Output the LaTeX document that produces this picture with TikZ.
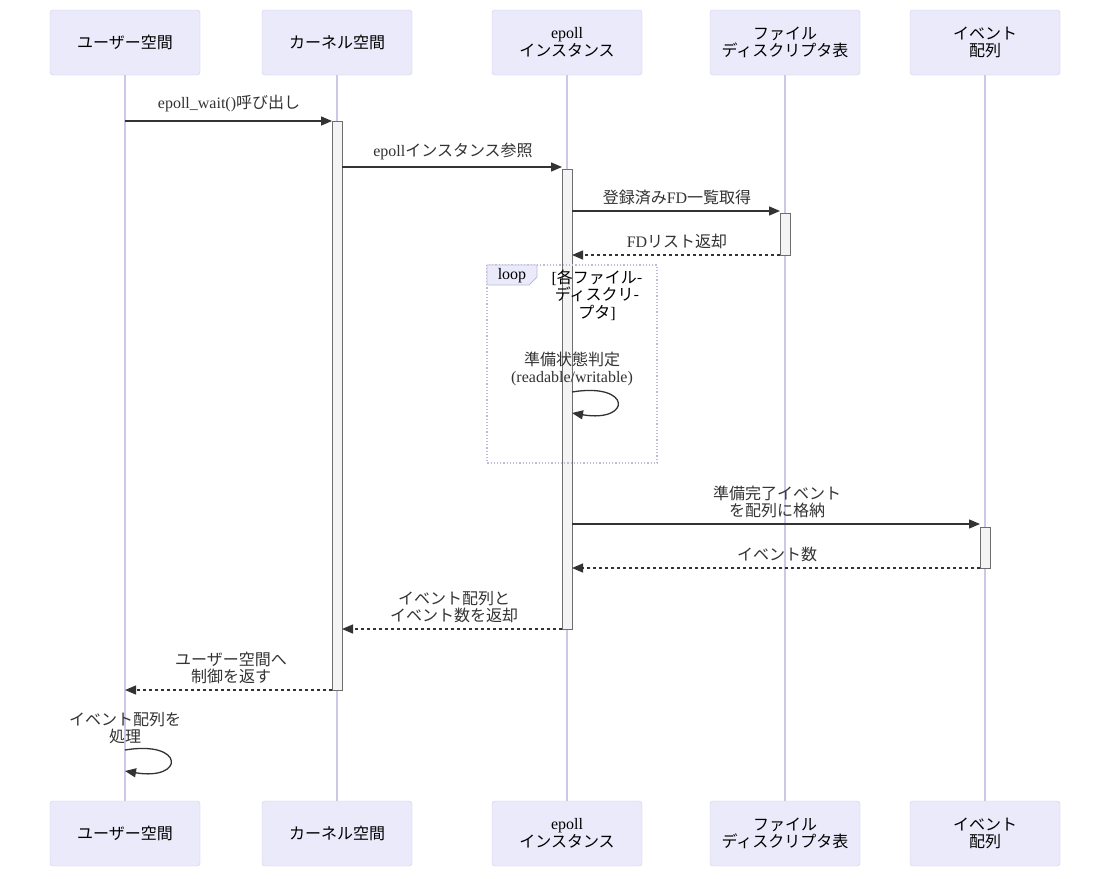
\documentclass[tikz,border=0pt]{standalone}
\usepackage{fontspec}
\setmainfont{Liberation Serif}
\newfontfamily\jpf{Noto Sans CJK JP}
\newcommand\jp[1]{{\jpf #1}}
\usetikzlibrary{arrows.meta}
\definecolor{actfill}{RGB}{234,234,250}
\definecolor{actbd}{RGB}{208,204,238}
\definecolor{lifec}{RGB}{204,200,232}
\definecolor{actvfill}{RGB}{244,244,244}
\definecolor{actvbd}{RGB}{110,110,110}
\definecolor{ink}{RGB}{51,51,51}
\definecolor{loopbd}{RGB}{190,186,220}
\newcommand\fs{\fontsize{16}{17.5}\selectfont}
\tikzset{
  actor/.style={draw=actbd, fill=actfill, rounded corners=3pt, minimum width=150pt, minimum height=65pt, inner sep=0pt, align=center, font=\fs, text=black},
  lifeline/.style={draw=lifec, line width=1.2pt},
  actv/.style={draw=actvbd, fill=actvfill, line width=0.8pt},
  msg/.style={draw=ink, line width=1.3pt, -{Triangle[length=11pt,width=9pt]}},
  rmsg/.style={msg, dash pattern=on 3pt off 3pt},
  lbl/.style={align=center, font=\fs, text=ink, inner sep=0pt},
}
\begin{document}
\begin{tikzpicture}[x=1pt,y=-1pt]
\useasboundingbox[fill=white] (0,0) rectangle (1110,878);
% actors top
\node[actor] (u) at (125,42.5) {\jp{ユーザー空間}};
\node[actor] (k) at (337,42.5) {\jp{カーネル空間}};
\node[actor] (e) at (567,42.5) {epoll\\\jp{インスタンス}};
\node[actor] (f) at (785,42.5) {\jp{ファイル}\\\jp{ディスクリプタ表}};
\node[actor] (a) at (985,42.5) {\jp{イベント}\\\jp{配列}};
% actors bottom
\node[actor] (u2) at (125,833.5) {\jp{ユーザー空間}};
\node[actor] (k2) at (337,833.5) {\jp{カーネル空間}};
\node[actor] (e2) at (567,833.5) {epoll\\\jp{インスタンス}};
\node[actor] (f2) at (785,833.5) {\jp{ファイル}\\\jp{ディスクリプタ表}};
\node[actor] (a2) at (985,833.5) {\jp{イベント}\\\jp{配列}};
% lifelines
\draw[lifeline] (u.south) -- (u2.north);
\draw[lifeline] (k.south) -- (k2.north);
\draw[lifeline] (e.south) -- (e2.north);
\draw[lifeline] (f.south) -- (f2.north);
\draw[lifeline] (a.south) -- (a2.north);
% activations
\draw[actv] (332,121) rectangle (342,690);
\draw[actv] (562,169) rectangle (572,629);
\draw[actv] (780,213) rectangle (790,255);
\draw[actv] (980,527) rectangle (990,568);
% endpoints
\coordinate (m1s) at (125,121); \coordinate (m1e) at (332,121);
\coordinate (m2s) at (342,167); \coordinate (m2e) at (562,167);
\coordinate (m3s) at (572,211); \coordinate (m3e) at (780,211);
\coordinate (m4s) at (780,255); \coordinate (m4e) at (572,255);
\coordinate (m5s) at (572,392); \coordinate (m5e) at (572,413);
\coordinate (m6s) at (572,524); \coordinate (m6e) at (980,524);
\coordinate (m7s) at (980,568); \coordinate (m7e) at (572,568);
\coordinate (m8s) at (562,629); \coordinate (m8e) at (342,629);
\coordinate (m9s) at (332,690); \coordinate (m9e) at (125,690);
\coordinate (m10s) at (125,750); \coordinate (m10e) at (125,771);
% loop frame
\draw[draw=loopbd, line width=1.2pt, dotted] (487,265) rectangle (657,463);
\fill[actfill] (487,265) -- (537,265) -- (537,277) -- (529,285) -- (487,285) -- cycle;
\draw[loopbd, line width=0.8pt] (487,265) -- (537,265) -- (537,277) -- (529,285) -- (487,285) -- cycle;
\node[lbl, text=black] (ltxt) at (512,276) {loop};
\node[lbl, text=black] (lcond) at (597,295) {[\jp{各ファイル-}\\\jp{ディスクリ-}\\\jp{プタ}]};
% messages
\draw[msg] (m1s) -- (m1e);
\node[lbl] (l1) at (229,104) {epoll\_wait()\jp{呼び出し}};
\draw[msg] (m2s) -- (m2e);
\node[lbl] (l2) at (453,151) {epoll\jp{インスタンス参照}};
\draw[msg] (m3s) -- (m3e);
\node[lbl] (l3) at (677,197) {\jp{登録済み}FD\jp{一覧取得}};
\draw[rmsg] (m4s) -- (m4e);
\node[lbl] (l4) at (677,241) {FD\jp{リスト返却}};
\node[lbl] (l5) at (572,369) {\jp{準備状態判定}\\(readable/writable)};
\draw[msg] (m5s) .. controls (632,382) and (632,423) .. (m5e);
\draw[msg] (m6s) -- (m6e);
\node[lbl] (l6) at (777,502) {\jp{準備完了イベント}\\\jp{を配列に格納}};
\draw[rmsg] (m7s) -- (m7e);
\node[lbl] (l7) at (777,554) {\jp{イベント数}};
\draw[rmsg] (m8s) -- (m8e);
\node[lbl] (l8) at (454,607) {\jp{イベント配列と}\\\jp{イベント数を返却}};
\draw[rmsg] (m9s) -- (m9e);
\node[lbl] (l9) at (231,668) {\jp{ユーザー空間へ}\\\jp{制御を返す}};
\node[lbl] (l10) at (125,728) {\jp{イベント配列を}\\\jp{処理}};
\draw[msg] (m10s) .. controls (185,740) and (185,781) .. (m10e);
\end{tikzpicture}
\end{document}
